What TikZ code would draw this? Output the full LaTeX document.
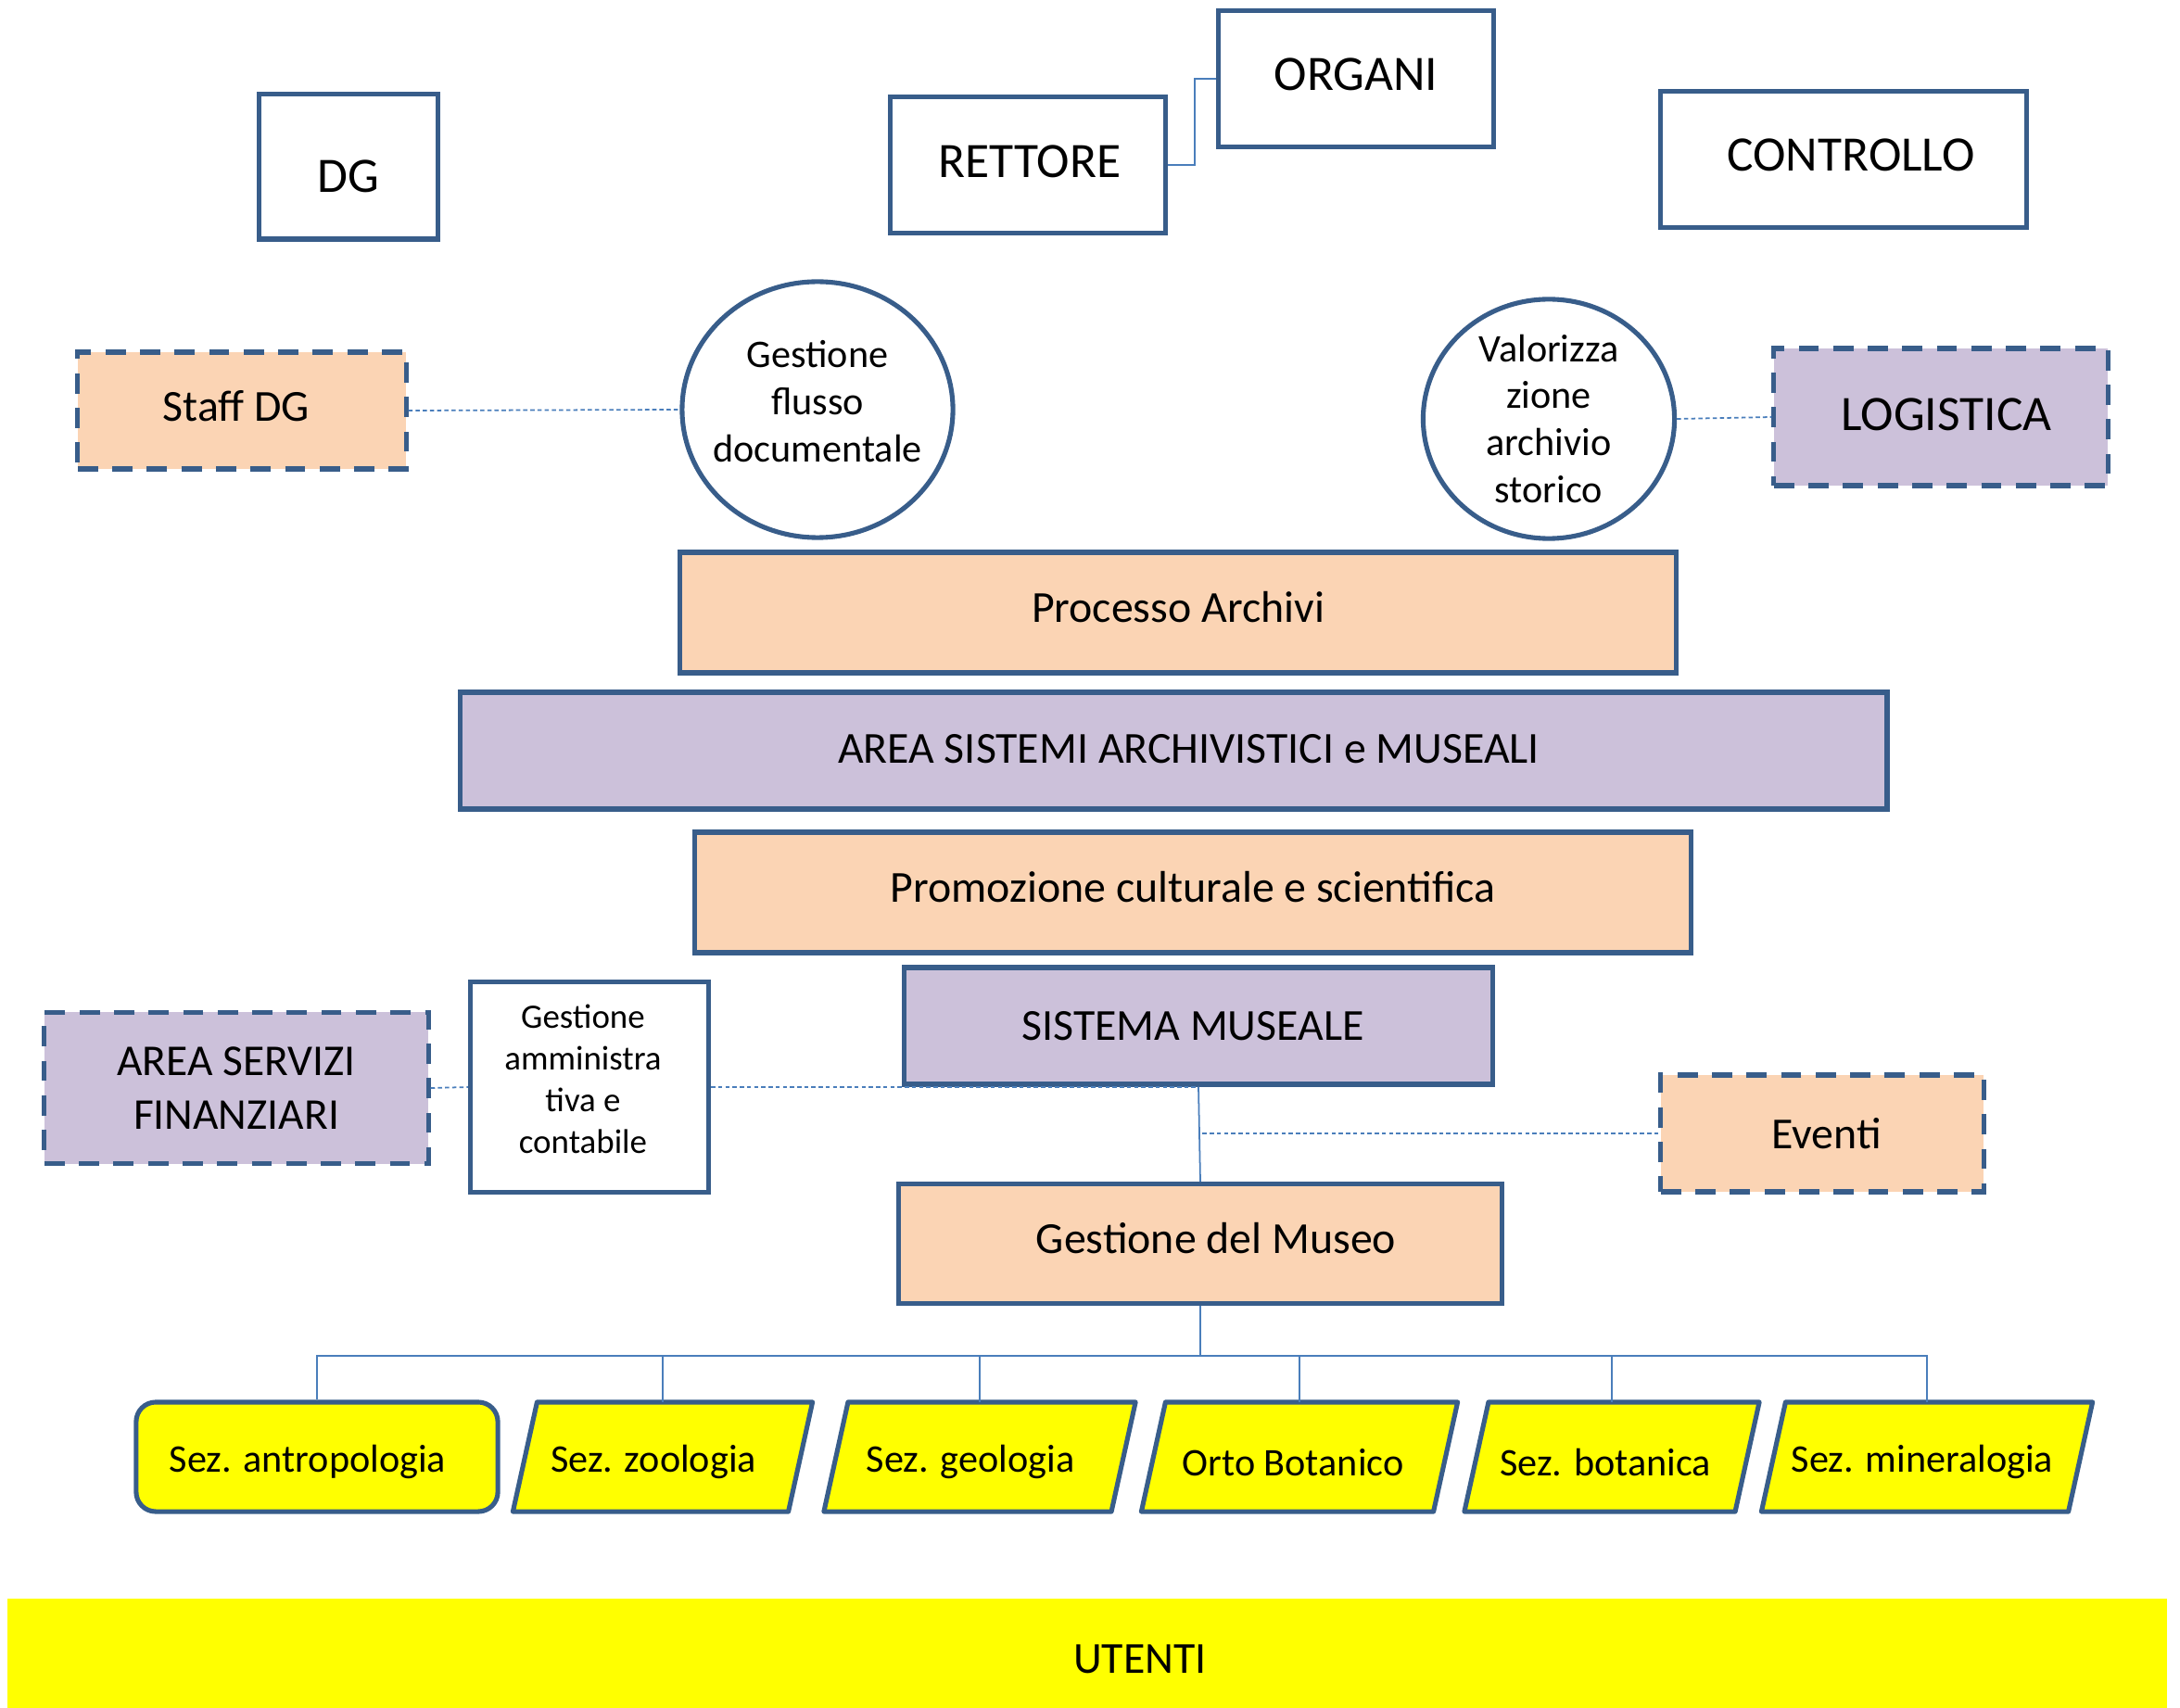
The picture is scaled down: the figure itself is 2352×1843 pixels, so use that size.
\documentclass[tikz,border=0pt]{standalone}
\usepackage{fontspec}
\setmainfont{Carlito}
\usetikzlibrary{shapes.geometric,backgrounds}
\definecolor{boxblue}{HTML}{385D8A}
\definecolor{linkblue}{HTML}{4A7EBB}
\definecolor{peach}{HTML}{FBD4B4}
\definecolor{lilac}{HTML}{CCC1DA}
\definecolor{sunny}{HTML}{FFFF00}
\tikzset{
  box/.style={draw=boxblue, line width=1.45pt, align=center, inner sep=0pt, fill=white},
  dashbox/.style={box, dash pattern=on 6.2pt off 4.4pt},
  circ/.style={box, ellipse},
  secbox/.style={box, fill=sunny, minimum height=1.18cm, text height=0.41cm,
    font=\fontsize{12}{14}\selectfont},
  sectext/.style={secbox, draw=none, fill=none, outer sep=0pt},
  secline/.style={draw=boxblue, line width=1.45pt, fill=sunny, line join=round},
  conn/.style={draw=linkblue, line width=0.5pt},
  dconn/.style={conn, dash pattern=on 1.3pt off 0.9pt},
  big/.style={font=\fontsize{15.2}{18}\selectfont},
  mid/.style={font=\fontsize{13.6}{16}\selectfont},
}
\begin{document}
\begin{tikzpicture}[x=0.01cm, y=-0.01cm]
    \useasboundingbox (0,0) rectangle (2352,1843);
    % vertici
    \node [box, big, text height=0.55cm, minimum width=1.92cm, minimum height=1.56cm] (dg) at (376,180) {DG};
    \node [box, big, text depth=0.08cm, minimum width=2.96cm, minimum height=1.47cm] (rett) at (1109,178) {\kern0.04cm RETTORE};
    \node [box, big, text depth=0.09cm, minimum width=2.96cm, minimum height=1.47cm] (org) at (1463,85) {ORGANI};
    \node [box, big, text depth=0.09cm, minimum width=3.94cm, minimum height=1.47cm] (ctrl) at (1989,172) {\kern0.16cm CONTROLLO};
    \draw [conn] (rett.east) -- ++(29,0) |- (org.west);
    % staff e processi
    \node [dashbox, mid, text depth=0.1cm, fill=peach, minimum width=3.54cm, minimum height=1.26cm] (staff) at (261,443) {Staff DG\kern0.12cm};
    \node [circ, font=\fontsize{12}{14.5}\selectfont, inner xsep=-0.1cm, text depth=0.18cm, minimum width=2.92cm, minimum height=2.76cm] (flusso) at (882,442) {Gestione\\flusso\\documentale};
    \node [circ, font=\fontsize{12}{14.5}\selectfont, minimum width=2.71cm, minimum height=2.58cm] (valor) at (1671,452) {Valorizza\\zione\\archivio\\storico};
    \node [dashbox, big, text depth=0.05cm, fill=lilac, minimum width=3.60cm, minimum height=1.48cm] (logi) at (2094,450) {\kern0.12cm LOGISTICA};
    \draw [dconn] (staff.east) -- (flusso.west);
    \draw [dconn] (valor.east) -- (logi.west);
    % fasce centrali
    \node [box, mid, text depth=0.12cm, fill=peach, minimum width=10.74cm, minimum height=1.30cm] (proc) at (1271,661) {Processo Archivi};
    \node [box, mid, text depth=0.05cm, fill=lilac, minimum width=15.39cm, minimum height=1.26cm] (area) at (1266,810) {\kern0.33cm AREA SISTEMI ARCHIVISTICI e MUSEALI};
    \node [box, mid, text depth=0.12cm, fill=peach, minimum width=10.74cm, minimum height=1.30cm] (promo) at (1287,963) {Promozione culturale e scientifica};
    \node [box, mid, fill=lilac, minimum width=6.35cm, minimum height=1.26cm] (sismus) at (1293,1107) {SISTEMA MUSEALE\kern0.12cm};
    \node [dashbox, font=\fontsize{13.5}{16.5}\selectfont, fill=lilac, minimum width=4.14cm, minimum height=1.63cm] (asf) at (255,1174) {AREA SERVIZI\\FINANZIARI};
    \node [box, font=\fontsize{10.5}{12.8}\selectfont, text depth=0.18cm, minimum width=2.57cm, minimum height=2.26cm] (amm) at (636,1173) {Gestione\kern0.14cm\\amministra\kern0.14cm\\tiva e\kern0.14cm\\contabile\kern0.14cm};
    \node [dashbox, mid, fill=peach, minimum width=3.48cm, minimum height=1.26cm] (eventi) at (1966,1223) {\kern0.09cm Eventi};
    \node [box, mid, text depth=0.12cm, fill=peach, minimum width=6.51cm, minimum height=1.29cm] (gmus) at (1295,1342) {\kern0.34cm Gestione del Museo};
    \draw [dconn] (asf.east) -- (amm.west);
    \draw [dconn] (amm.east) -- (amm.east -| sismus.south);
    \draw [dconn] (eventi.west) -- (eventi.west -| sismus.south);
    \draw [conn] (sismus.south) -- (gmus.north);
    % sezioni
    \node [secbox, rounded corners=6pt, minimum width=3.90cm] (antr) at (342,1572) {Sez. antropologia\kern0.2cm};
    \node [sectext, minimum width=2.97cm] (zoo) at (715,1572) {Sez. zoologia\kern0.2cm};
    \node [sectext, minimum width=3.10cm] (geo) at (1057,1572) {Sez. geologia\kern0.2cm};
    \node [sectext, minimum width=3.15cm] (orto) at (1402,1572) {Orto Botanico\kern0.14cm};
    \node [sectext, minimum width=2.92cm] (bot) at (1739,1572) {Sez. botanica\kern0.14cm};
    \node [sectext, minimum width=3.31cm] (mine) at (2079,1572) {Sez. mineralogia\kern0.1cm};
    \begin{scope}[on background layer]
        \foreach \s in {zoo,geo,orto,bot,mine}
            \draw [secline] ([xshift=0.13cm]\s.north west) -- ([xshift=0.13cm]\s.north east)
                -- ([xshift=-0.13cm]\s.south east) -- ([xshift=-0.13cm]\s.south west) -- cycle;
    \end{scope}
    \coordinate (bus) at ([yshift=-0.54cm]gmus.south);
    \draw [conn] (gmus.south) -- (bus);
    \foreach \s in {antr,zoo,geo,orto,bot,mine}
        \draw [conn] (bus) -| (\s.north);
    % utenti
    \node [fill=sunny, mid, text height=0.44cm, minimum width=23.29cm, minimum height=1.18cm, inner sep=0pt] (utenti) at (1173,1784) {\kern1.14cm UTENTI};
\end{tikzpicture}
\end{document}
